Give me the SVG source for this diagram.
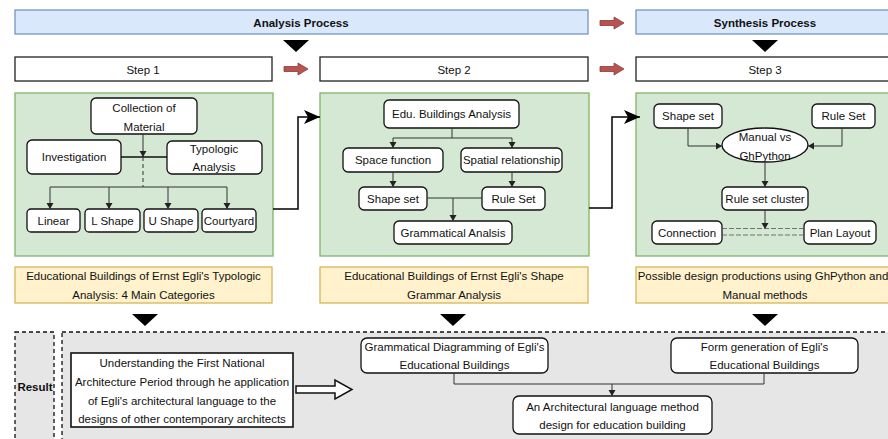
<svg xmlns="http://www.w3.org/2000/svg" width="888" height="439" viewBox="0 0 888 439">
  <style>
    text { font-family: "Liberation Sans", Arial, sans-serif; font-size: 11.5px; fill: #111; text-anchor: middle; }
    .bold { font-weight: bold; }
    .head { fill: #dae8fc; stroke: #6c8ebf; stroke-width: 1.2; }
    .step { fill: #fff; stroke: #222; stroke-width: 1.3; }
    .panel { fill: #d5e8d4; stroke: #82b366; stroke-width: 1.3; }
    .note { fill: #fff2cc; stroke: #d6b656; stroke-width: 1.3; }
    .node { fill: #fff; stroke: #111; stroke-width: 1.3; }
    .zone { fill: #e6e6e6; stroke: #111; stroke-width: 1.3; stroke-dasharray: 4 3; }
    .tri { fill: #000; }
    .flow { fill: #b85450; stroke: #8c3b38; stroke-width: 0.8; }
    .link { fill: none; stroke: #333; stroke-width: 1; }
    .linkA { fill: none; stroke: #333; stroke-width: 1; marker-end: url(#small); }
    .jump { fill: none; stroke: #000; stroke-width: 1.5; marker-end: url(#big); }
  </style>
  <defs>
    <marker id="small" markerUnits="userSpaceOnUse" markerWidth="8" markerHeight="8" refX="6" refY="3.5" orient="auto">
      <path d="M0,0 L6,3.5 L0,7 Z" fill="#222"/>
    </marker>
    <marker id="big" markerUnits="userSpaceOnUse" markerWidth="20" markerHeight="16" refX="16" refY="7" orient="auto">
      <path d="M0,0 L16,7 L0,14 L4,7 Z" fill="#000"/>
    </marker>
  </defs>

  <!-- process headers -->
  <g id="analysis-process">
    <rect class="head" x="15" y="10" width="573" height="24"/>
    <text class="bold" x="301" y="27">Analysis Process</text>
  </g>
  <g id="synthesis-process">
    <rect class="head" x="636" y="10" width="258" height="24"/>
    <text class="bold" x="765" y="27">Synthesis Process</text>
  </g>

  <!-- step bars -->
  <g id="step1">
    <rect class="step" x="15" y="57" width="257" height="24"/>
    <text x="143" y="74">Step 1</text>
  </g>
  <g id="step2">
    <rect class="step" x="320" y="57" width="268" height="24"/>
    <text x="454" y="74">Step 2</text>
  </g>
  <g id="step3">
    <rect class="step" x="636" y="57" width="258" height="24"/>
    <text x="765" y="74">Step 3</text>
  </g>

  <!-- column panels -->
  <g id="panel1"><rect class="panel" x="15" y="93" width="258" height="163"/></g>
  <g id="panel2"><rect class="panel" x="320" y="93" width="269" height="163"/></g>
  <g id="panel3"><rect class="panel" x="636" y="93" width="258" height="163"/></g>

  <!-- step 1 nodes -->
  <g id="collection">
    <rect class="node" x="91" y="98" width="106" height="36" rx="5"/>
    <text x="144" y="112">Collection of</text>
    <text x="144" y="131">Material</text>
  </g>
  <g id="investigation">
    <rect class="node" x="27" y="140" width="94" height="34" rx="5"/>
    <text x="74" y="161">Investigation</text>
  </g>
  <g id="typologic">
    <rect class="node" x="167" y="141" width="95" height="33" rx="5"/>
    <text x="214" y="153">Typologic</text>
    <text x="214" y="171">Analysis</text>
  </g>
  <g id="linear">
    <rect class="node" x="27" y="209" width="53" height="23" rx="4"/>
    <text x="53.5" y="224.5">Linear</text>
  </g>
  <g id="l-shape">
    <rect class="node" x="85" y="209" width="55" height="23" rx="4"/>
    <text x="112.5" y="224.5">L Shape</text>
  </g>
  <g id="u-shape">
    <rect class="node" x="144" y="209" width="54" height="23" rx="4"/>
    <text x="171" y="224.5">U Shape</text>
  </g>
  <g id="courtyard">
    <rect class="node" x="202" y="209" width="54" height="23" rx="4"/>
    <text x="229" y="224.5">Courtyard</text>
  </g>

  <!-- step 2 nodes -->
  <g id="edu-analysis">
    <rect class="node" x="384" y="100" width="135" height="28" rx="5"/>
    <text x="451.5" y="118">Edu. Buildings Analysis</text>
  </g>
  <g id="space-function">
    <rect class="node" x="343" y="148" width="100" height="24" rx="5"/>
    <text x="393" y="164">Space function</text>
  </g>
  <g id="spatial-relationship">
    <rect class="node" x="461" y="148" width="101" height="24" rx="5"/>
    <text x="511.5" y="164">Spatial relationship</text>
  </g>
  <g id="shape-set-2">
    <rect class="node" x="359" y="187" width="68" height="23" rx="5"/>
    <text x="393" y="202.5">Shape set</text>
  </g>
  <g id="rule-set-2">
    <rect class="node" x="482" y="187" width="63" height="23" rx="5"/>
    <text x="513.5" y="202.5">Rule Set</text>
  </g>
  <g id="grammatical-analysis">
    <rect class="node" x="394" y="221" width="118" height="23" rx="5"/>
    <text x="453" y="236.5">Grammatical Analsis</text>
  </g>

  <!-- step 3 nodes -->
  <g id="shape-set-3">
    <rect class="node" x="654" y="104" width="68" height="24" rx="5"/>
    <text x="688" y="120">Shape set</text>
  </g>
  <g id="rule-set-3">
    <rect class="node" x="812" y="104" width="63" height="24" rx="5"/>
    <text x="843.5" y="120">Rule Set</text>
  </g>
  <g id="manual-vs-ghpython">
    <ellipse class="node" cx="765" cy="145" rx="43" ry="17"/>
    <text x="765" y="141">Manual vs</text>
    <text x="765" y="160">GhPython</text>
  </g>
  <g id="rule-set-cluster">
    <rect class="node" x="722" y="187" width="86" height="23" rx="5"/>
    <text x="765" y="202.5">Rule set cluster</text>
  </g>
  <g id="connection">
    <rect class="node" x="652" y="221" width="70" height="23" rx="5"/>
    <text x="687" y="236.5">Connection</text>
  </g>
  <g id="plan-layout">
    <rect class="node" x="804" y="221" width="72" height="23" rx="5"/>
    <text x="840" y="236.5">Plan Layout</text>
  </g>

  <!-- column summaries -->
  <g id="summary1">
    <rect class="note" x="15" y="267" width="257" height="36"/>
    <text x="143.5" y="280">Educational Buildings of Ernst Egli's Typologic</text>
    <text x="143.5" y="299">Analysis: 4 Main Categories</text>
  </g>
  <g id="summary2">
    <rect class="note" x="320" y="267" width="268" height="36"/>
    <text x="454" y="280">Educational Buildings of Ernst Egli's Shape</text>
    <text x="454" y="299">Grammar Analysis</text>
  </g>
  <g id="summary3">
    <rect class="note" x="636" y="267" width="258" height="36"/>
    <text x="763" y="280">Possible design productions using GhPython and</text>
    <text x="765" y="299">Manual methods</text>
  </g>

  <!-- result zone -->
  <g id="result-label">
    <rect class="zone" x="15" y="332" width="39" height="112"/>
    <text class="bold" x="35" y="391">Result</text>
  </g>
  <g id="result-area">
    <rect class="zone" x="62" y="332" width="832" height="112"/>
  </g>
  <g id="understanding">
    <rect x="71" y="353" width="222" height="74" fill="#fff" stroke="#111" stroke-width="1.6"/>
    <text x="182" y="367">Understanding the First National</text>
    <text x="182" y="386">Architecture Period through he application</text>
    <text x="182" y="405">of Egli's architectural language to the</text>
    <text x="182" y="423">designs of other contemporary architects</text>
  </g>
  <g id="grammatical-diagramming">
    <rect class="node" x="361" y="338" width="187" height="35" rx="6"/>
    <text x="454.5" y="351">Grammatical Diagramming of Egli's</text>
    <text x="454.5" y="369">Educational Buildings</text>
  </g>
  <g id="form-generation">
    <rect class="node" x="671" y="338" width="187" height="35" rx="6"/>
    <text x="764.5" y="351">Form generation of Egli's</text>
    <text x="764.5" y="369">Educational Buildings</text>
  </g>
  <g id="language-method">
    <rect class="node" x="513" y="396" width="199" height="38" rx="6"/>
    <text x="612.5" y="411">An Architectural language method</text>
    <text x="612.5" y="429">design for education building</text>
  </g>

  <!-- connectors -->
  <g id="connectors">
    <!-- header / flow markers -->
    <polygon class="tri" points="283,40 309,40 296,52"/>
    <polygon class="tri" points="752,40 778,40 765,52"/>
    <polygon class="tri" points="132,314 158,314 145,326"/>
    <polygon class="tri" points="440,314 466,314 453,326"/>
    <polygon class="tri" points="752,314 778,314 765,326"/>
    <polygon class="flow" points="600,20.5 614,20.5 614,17 624,23 614,29 614,25.5 600,25.5"/>
    <polygon class="flow" points="284,66.5 298,66.5 298,63 308,69 298,75 298,71.5 284,71.5"/>
    <polygon class="flow" points="600,66.5 614,66.5 614,63 624,69 614,75 614,71.5 600,71.5"/>

    <!-- step 1 -->
    <line class="linkA" x1="143" y1="134" x2="143" y2="157"/>
    <line x1="121" y1="157" x2="167" y2="157" stroke="#111" stroke-width="1.5"/>
    <line x1="143" y1="157" x2="143" y2="187" stroke="#333" stroke-width="1" stroke-dasharray="4 3"/>
    <line class="link" x1="50" y1="187" x2="227" y2="187"/>
    <line class="linkA" x1="50" y1="187" x2="50" y2="209"/>
    <line class="linkA" x1="109" y1="187" x2="109" y2="209"/>
    <line class="linkA" x1="168" y1="187" x2="168" y2="209"/>
    <line class="linkA" x1="227" y1="187" x2="227" y2="209"/>

    <!-- panel to panel -->
    <polyline class="jump" points="273,209 298,209 298,117 320,117"/>
    <polyline class="jump" points="589,208 612,208 612,117 640,117"/>

    <!-- step 2 -->
    <line class="link" x1="452" y1="128" x2="452" y2="138"/>
    <line class="link" x1="393" y1="138" x2="512" y2="138"/>
    <line class="linkA" x1="393" y1="138" x2="393" y2="148"/>
    <line class="linkA" x1="512" y1="138" x2="512" y2="148"/>
    <line class="linkA" x1="393" y1="172" x2="393" y2="187"/>
    <line class="linkA" x1="512" y1="172" x2="512" y2="187"/>
    <line class="link" x1="427" y1="198" x2="482" y2="198"/>
    <line class="linkA" x1="453" y1="198" x2="453" y2="221"/>

    <!-- step 3 -->
    <polyline class="linkA" points="688,128 688,146 722,146"/>
    <polyline class="linkA" points="842,128 842,146 808,146"/>
    <line class="linkA" x1="765" y1="162" x2="765" y2="187"/>
    <line class="linkA" x1="765" y1="210" x2="765" y2="229"/>
    <line x1="722" y1="228.5" x2="804" y2="228.5" stroke="#555" stroke-width="0.8" stroke-dasharray="5 2"/>
    <line x1="722" y1="235" x2="804" y2="235" stroke="#555" stroke-width="0.8" stroke-dasharray="5 2"/>

    <!-- result -->
    <polygon points="296,386 335,386 335,380 352,389.5 335,399 335,393 296,393" fill="#fff" stroke="#111" stroke-width="1.5"/>
    <polyline class="link" points="454,373 454,384 764,384 764,373"/>
    <line class="linkA" x1="612" y1="384" x2="612" y2="396"/>
  </g>
</svg>
